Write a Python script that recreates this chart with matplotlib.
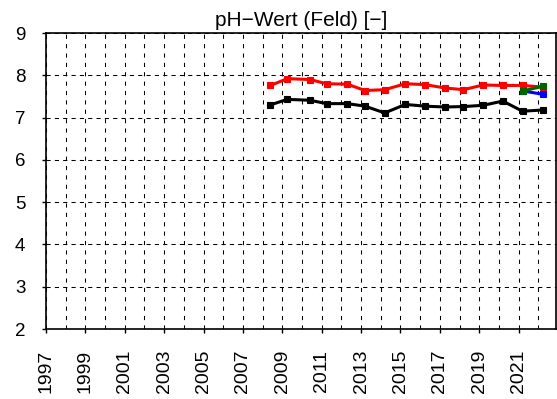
import matplotlib.pyplot as plt
import numpy as np

plt.rcParams['font.family'] = ['Liberation Sans', 'DejaVu Sans']

# sampling dates (decimal years) and pH values
years = [2008.4, 2009.25, 2010.4, 2011.25, 2012.3, 2013.2, 2014.2, 2015.25,
         2016.25, 2017.25, 2018.2, 2019.2, 2020.2, 2021.2, 2022.25]
ph_red = [7.76, 7.92, 7.90, 7.80, 7.79, 7.64, 7.66, 7.80,
          7.78, 7.70, 7.66, 7.77, 7.76, 7.76, 7.72]
ph_black = [7.30, 7.43, 7.41, 7.33, 7.33, 7.27, 7.11, 7.31,
            7.27, 7.25, 7.26, 7.29, 7.39, 7.15, 7.18]
years_short = [2021.2, 2022.25]
ph_blue = [7.63, 7.55]
ph_green = [7.63, 7.74]

xticks = list(range(1997, 2022, 2))
yticks = list(range(2, 10))

fig = plt.figure(figsize=(5.57, 3.99), dpi=100)
ax = fig.add_axes([46/557, 1 - 329/399, (556 - 46)/557, (329 - 33)/399])

style = dict(lw=2.2, marker='s', ms=4.6, mew=0.8, zorder=3)
ax.plot(years, ph_red, color='#ff0000', **style)
ax.plot(years, ph_black, color='black', **style)
ax.plot(years_short, ph_blue, color='#0000ff', **style)
ax.plot(years_short, ph_green, color='#006400', **style)

ax.set_xlim(1997, 2022.9)
ax.set_ylim(2, 9)
ax.set_xticks(xticks)
ax.set_xticklabels([str(y) for y in xticks], rotation=90)
ax.set_xticks(range(1998, 2023), minor=True)
ax.set_yticks(yticks)
ax.tick_params(axis='both', which='major', direction='out', length=3,
               width=1, color='black')
ax.tick_params(axis='x', which='minor', length=0)
ax.tick_params(axis='y', pad=15.5, labelsize=13.5)
ax.tick_params(axis='x', pad=12, labelsize=14)
for lbl in ax.get_yticklabels():
    lbl.set_horizontalalignment('center')

ax.grid(True, axis='x', which='both', color='black', ls=(0, (4, 5)), lw=0.75)
ax.grid(True, axis='y', which='major', color='black', ls=(0, (4, 4)), lw=0.75)
for s in ax.spines.values():
    s.set_linewidth(1.2)

ax.set_title('pH\u2212Wert (Feld) [\u2212]', fontsize=15, pad=5)

fig.savefig('out.png', dpi=100)
